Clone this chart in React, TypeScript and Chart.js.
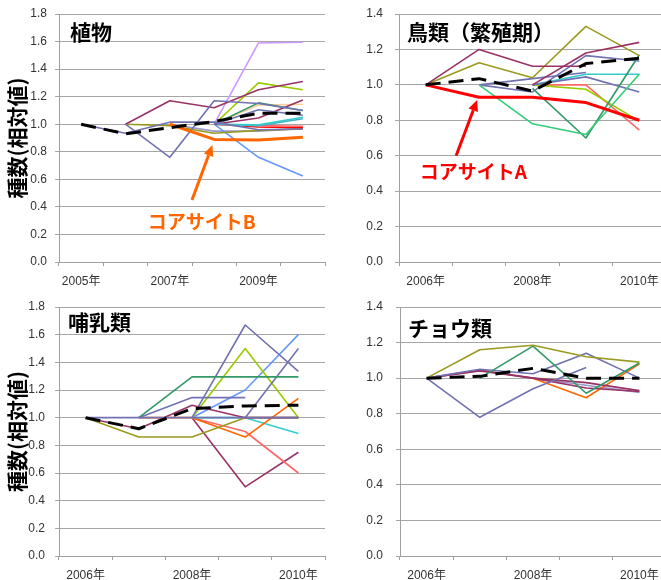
import React, { useEffect, useRef } from 'react';
import { Chart, registerables } from 'chart.js';

Chart.register(...registerables);

// ---------- categories ----------
const plantYears = ['2005年', '2006年', '2007年', '2008年', '2009年', '2010年'];
const otherYears = ['2006年', '2007年', '2008年', '2009年', '2010年'];

// ---------- colours ----------
const BLACK = '#000000';
const SLATE = '#7272B2';
const MAROON = '#993366';
const OLIVE = '#9A9A1E';
const YGREEN = '#99CC00';
const TEAL = '#339966';
const GREEN = '#33CC77';
const LAVENDER = '#CC99FF';
const LBLUE = '#6699FF';
const PEACH = '#FFCC99';
const TURQ = '#33CCCC';
const CYAN2 = '#4BACC6';
const RED = '#FF0000';
const SALMON = '#FF6666';
const ORANGE = '#FF6600';
const PERIW = '#9999CC';

// ---------- 植物 (2005-2010) ----------
const plantMean = [1.0, 0.93, 0.975, 1.02, 1.08, 1.08];
const plantCoreB = [null, null, 1.0, 0.89, 0.885, 0.905];
const plantSlate1 = [1.0, 0.935, 1.015, 1.015, 0.96, 0.965];
const plantSlate2 = [null, 1.0, 0.76, 1.17, 1.15, 1.1];
const plantSlate3 = [null, null, null, 1.0, 1.105, 1.065];
const plantMaroon1 = [null, 1.0, 1.17, 1.12, 1.25, 1.31];
const plantMaroon2 = [null, null, null, 1.0, 1.045, 1.175];
const plantLavender = [null, null, null, 1.0, 1.59, 1.595];
const plantYGreen = [null, null, null, 1.0, 1.3, 1.25];
const plantTeal = [null, null, null, 1.0, 1.155, 1.1];
const plantPeach = [null, null, null, 1.0, 1.14, 1.145];
const plantTurq = [null, null, null, 1.0, 0.995, 1.05];
const plantCyan = [null, null, null, 1.0, 0.99, 1.04];
const plantSalmon = [null, null, null, 1.0, 0.99, 0.985];
const plantRed = [null, null, null, 1.0, 0.98, 0.975];
const plantOlive = [null, 1.0, 0.99, 0.935, 0.955, 0.965];
const plantLBlue = [null, null, null, 1.0, 0.76, 0.625];
const plantPeriw = [null, null, 1.0, 0.95, 0.95, 0.97];

// ---------- 鳥類(繁殖期) (2006-2010) ----------
const birdMean = [1.0, 1.035, 0.965, 1.12, 1.15];
const birdCoreA = [1.0, 0.93, 0.93, 0.9, 0.8];
const birdMaroon1 = [1.0, 1.2, 1.105, 1.105, null];
const birdMaroon2 = [null, null, 1.0, 1.18, 1.24];
const birdOlive = [1.0, 1.125, 1.04, 1.33, 1.165];
const birdGreen = [null, 1.0, 0.78, 0.72, 1.06];
const birdTeal = [null, null, 0.98, 0.7, 1.17];
const birdSlate1 = [null, 1.0, 1.035, 1.07, null];
const birdSlate2 = [null, 1.0, 0.96, 1.165, 1.135];
const birdSlate3 = [null, null, 1.0, 1.045, 0.96];
const birdTurq = [null, null, 1.0, 1.06, 1.06];
const birdYGreen = [null, null, 1.0, 0.975, 0.795];
const birdSalmon = [null, null, 1.0, 1.0, 0.745];

// ---------- 哺乳類 (2006-2010) ----------
const mamMean = [1.0, 0.92, 1.065, 1.085, 1.09];
const mamSlateFlat = [1.0, 1.0, 1.0, 1.0, 1.0];
const mamMaroon1 = [1.0, 0.92, 1.09, 1.0, 1.0];
const mamOlive = [1.0, 0.86, 0.86, 1.0, 1.0];
const mamTeal = [null, 1.0, 1.295, 1.295, 1.295];
const mamSlate2 = [null, 1.0, 1.145, 1.145, null];
const mamOrange = [null, 1.0, 1.0, 0.86, 1.14];
const mamSlate3 = [null, null, 1.0, 1.67, 1.335];
const mamSlate4 = [null, null, null, 1.0, 1.5];
const mamYGreen = [null, null, 1.0, 1.5, 1.0];
const mamLBlue = [null, null, 1.0, 1.2, 1.6];
const mamTurq = [null, null, 1.0, 1.0, 0.885];
const mamSalmon = [null, null, 1.0, 0.9, 0.6];
const mamMaroon2 = [null, null, 1.0, 0.5, 0.75];

// ---------- チョウ類 (2006-2010) ----------
const butMean = [1.0, 1.01, 1.055, 1.0, 1.0];
const butOlive = [1.0, 1.16, 1.185, 1.12, 1.09];
const butTeal = [null, 1.0, 1.18, 0.915, 1.085];
const butSlate1 = [1.0, 0.78, 0.94, 1.06, null];
const butSlate2 = [1.0, 1.05, 1.025, 1.14, 1.0];
const butMaroon1 = [1.0, 1.04, 1.0, 0.975, 0.93];
const butMaroon2 = [1.0, 1.045, 1.0, 0.945, 0.925];
const butOrange = [null, null, 1.0, 0.89, 1.08];
const butPeriw = [null, null, 1.0, 0.96, 0.92];

type Series = { data: (number | null)[]; color: string; width?: number; dash?: number[] };
type Annot = {
  text: string; color: string;
  tx: number; ty: number;
  ax0: number; ay0: number; ax1: number; ay1: number;
};

const MEAN_DASH = [15, 8];
const LATIN = "'Liberation Sans', Arial, 'Noto Sans CJK JP', sans-serif";
const CJK = "'Noto Sans CJK JP', 'Noto Sans CJK SC', sans-serif";

const plantSeries: Series[] = [
  { data: plantMean, color: BLACK, width: 3, dash: MEAN_DASH },
  { data: plantCoreB, color: ORANGE, width: 3 },
  { data: plantSlate1, color: SLATE },
  { data: plantSlate2, color: SLATE },
  { data: plantSlate3, color: SLATE },
  { data: plantMaroon1, color: MAROON },
  { data: plantMaroon2, color: MAROON },
  { data: plantLavender, color: LAVENDER },
  { data: plantYGreen, color: YGREEN },
  { data: plantTeal, color: TEAL },
  { data: plantPeach, color: PEACH },
  { data: plantTurq, color: TURQ },
  { data: plantCyan, color: CYAN2 },
  { data: plantSalmon, color: SALMON },
  { data: plantRed, color: RED },
  { data: plantOlive, color: OLIVE },
  { data: plantLBlue, color: LBLUE },
  { data: plantPeriw, color: PERIW },
];

const birdSeries: Series[] = [
  { data: birdMean, color: BLACK, width: 3, dash: MEAN_DASH },
  { data: birdCoreA, color: RED, width: 3 },
  { data: birdMaroon1, color: MAROON },
  { data: birdMaroon2, color: MAROON },
  { data: birdOlive, color: OLIVE },
  { data: birdGreen, color: GREEN },
  { data: birdTeal, color: TEAL },
  { data: birdSlate1, color: SLATE },
  { data: birdSlate2, color: SLATE },
  { data: birdSlate3, color: SLATE },
  { data: birdTurq, color: TURQ },
  { data: birdYGreen, color: YGREEN },
  { data: birdSalmon, color: SALMON },
];

const mamSeries: Series[] = [
  { data: mamMean, color: BLACK, width: 3, dash: MEAN_DASH },
  { data: mamSlateFlat, color: SLATE },
  { data: mamMaroon1, color: MAROON },
  { data: mamOlive, color: OLIVE },
  { data: mamTeal, color: TEAL },
  { data: mamSlate2, color: SLATE },
  { data: mamOrange, color: ORANGE },
  { data: mamSlate3, color: SLATE },
  { data: mamSlate4, color: SLATE },
  { data: mamYGreen, color: YGREEN },
  { data: mamLBlue, color: LBLUE },
  { data: mamTurq, color: TURQ },
  { data: mamSalmon, color: SALMON },
  { data: mamMaroon2, color: MAROON },
];

const butSeries: Series[] = [
  { data: butMean, color: BLACK, width: 3, dash: MEAN_DASH },
  { data: butOlive, color: OLIVE },
  { data: butTeal, color: TEAL },
  { data: butSlate1, color: SLATE },
  { data: butSlate2, color: SLATE },
  { data: butMaroon1, color: MAROON },
  { data: butMaroon2, color: MAROON },
  { data: butOrange, color: ORANGE },
  { data: butPeriw, color: PERIW },
];

interface PanelProps {
  left: number; top: number; width: number; height: number;
  labels: string[];
  series: Series[];
  yMax: number;
  title: string;
  titleDx: number; titleDy: number;
  yTitle?: string;
  yAxisWidth: number;
  xAxisHeight: number;
  tickPad: number;
  padTop: number;
  annot?: Annot;
}

function Panel(p: PanelProps) {
  const ref = useRef<HTMLCanvasElement | null>(null);
  useEffect(() => {
    if (!ref.current) return;
    const overlay = {
      id: 'overlay',
      afterDraw(chart: any) {
        const { ctx, chartArea, scales } = chart;
        ctx.save();
        ctx.font = `bold 21px ${CJK}`;
        ctx.fillStyle = '#000';
        ctx.textBaseline = 'middle';
        ctx.textAlign = 'left';
        ctx.fillText(p.title, chartArea.left + p.titleDx, chartArea.top + p.titleDy);
        const a = p.annot;
        if (a) {
          const xs = scales.x, ys = scales.y;
          const x0 = xs.getPixelForValue(a.ax0), y0 = ys.getPixelForValue(a.ay0);
          const x1 = xs.getPixelForValue(a.ax1), y1 = ys.getPixelForValue(a.ay1);
          const ang = Math.atan2(y1 - y0, x1 - x0);
          const hl = 11, hw = 5;
          const bx = x1 - hl * Math.cos(ang), by = y1 - hl * Math.sin(ang);
          ctx.strokeStyle = a.color;
          ctx.fillStyle = a.color;
          ctx.lineWidth = 3;
          ctx.beginPath();
          ctx.moveTo(x0, y0);
          ctx.lineTo(bx, by);
          ctx.stroke();
          ctx.beginPath();
          ctx.moveTo(x1, y1);
          ctx.lineTo(bx + hw * Math.sin(ang), by - hw * Math.cos(ang));
          ctx.lineTo(bx - hw * Math.sin(ang), by + hw * Math.cos(ang));
          ctx.closePath();
          ctx.fill();
          ctx.font = `bold 19px ${CJK}`;
          ctx.textBaseline = 'middle';
          ctx.textAlign = 'left';
          ctx.fillText(a.text, xs.getPixelForValue(a.tx), ys.getPixelForValue(a.ty));
        }
        ctx.restore();
      },
    };
    const labels = p.labels;
    const chart = new Chart(ref.current, {
      type: 'line',
      data: {
        labels,
        datasets: p.series.map((s) => ({
          data: s.data,
          borderColor: s.color,
          backgroundColor: s.color,
          borderWidth: s.width ?? 1.6,
          borderDash: s.dash ?? [],
          pointRadius: 0,
          pointHoverRadius: 0,
          tension: 0,
          fill: false,
          spanGaps: false,
          borderCapStyle: 'butt',
          borderJoinStyle: 'round',
        })),
      } as any,
      options: {
        animation: false,
        responsive: false,
        maintainAspectRatio: false,
        devicePixelRatio: 1,
        events: [],
        layout: { padding: { left: 0, top: p.padTop, right: 5, bottom: 0 } },
        plugins: { legend: { display: false }, tooltip: { enabled: false }, title: { display: false } },
        scales: {
          x: {
            type: 'category',
            offset: true,
            grid: { offset: true, drawOnChartArea: false, drawTicks: true, tickLength: 4, color: '#a0a0a0' },
            border: { display: true, color: '#a0a0a0' },
            ticks: {
              autoSkip: false, maxRotation: 0, minRotation: 0, padding: 8, color: '#333',
              font: { family: LATIN, size: 12 },
              callback: (_v: any, i: number) => (i % 2 === 0 ? labels[i] : ''),
            },
            afterFit: (s: any) => { s.height = p.xAxisHeight; s.paddingLeft = 0; s.paddingRight = 0; },
          },
          y: {
            min: 0, max: p.yMax,
            ticks: {
              stepSize: 0.2, padding: p.tickPad, color: '#333',
              font: { family: LATIN, size: 12 },
              callback: (v: any) => Number(v).toFixed(1),
            },
            grid: { color: '#a6a6a6', tickLength: 4, lineWidth: 1 },
            border: { color: '#a0a0a0' },
            title: p.yTitle
              ? { display: true, text: p.yTitle, color: '#000', font: { family: CJK, size: 21, weight: 'bold' }, padding: { top: 4, bottom: 0 } }
              : { display: false },
            afterFit: (s: any) => { s.width = p.yAxisWidth; s.paddingTop = 0; s.paddingBottom = 0; },
          },
        },
      } as any,
      plugins: [overlay],
    });
    return () => chart.destroy();
  }, []);
  return (
    <canvas
      ref={ref}
      width={p.width}
      height={p.height}
      style={{ position: 'absolute', left: p.left, top: p.top, width: p.width, height: p.height, display: 'block' }}
    />
  );
}

export default function App() {
  return (
    <div style={{ position: 'absolute', left: 0, top: 0, width: 661, height: 580, overflow: 'hidden', background: '#fff' }}>
      <Panel
        left={0} top={0} width={330} height={290}
        labels={plantYears} series={plantSeries} yMax={1.8}
        title="植物" titleDx={11} titleDy={18}
        yTitle="種数(相対値)" yAxisWidth={59} xAxisHeight={28} tickPad={8} padTop={14}
        annot={{ text: 'コアサイトB', color: ORANGE, tx: 1.5, ty: 0.29, ax0: 2.5, ay0: 0.45, ax1: 2.96, ay1: 0.85 }}
      />
      <Panel
        left={330} top={0} width={341} height={290}
        labels={otherYears} series={birdSeries} yMax={1.4}
        title="鳥類（繁殖期）" titleDx={8} titleDy={18}
        yAxisWidth={69} xAxisHeight={28} tickPad={12} padTop={14}
        annot={{ text: 'コアサイトA', color: RED, tx: -0.11, ty: 0.508, ax0: 0.57, ay0: 0.6, ax1: 0.963, ay1: 0.915 }}
      />
      <Panel
        left={0} top={290} width={330} height={290}
        labels={otherYears} series={mamSeries} yMax={1.8}
        title="哺乳類" titleDx={9} titleDy={15}
        yTitle="種数(相対値)" yAxisWidth={59} xAxisHeight={24} tickPad={10} padTop={17}
      />
      <Panel
        left={330} top={290} width={341} height={290}
        labels={otherYears} series={butSeries} yMax={1.4}
        title="チョウ類" titleDx={8} titleDy={21}
        yAxisWidth={70} xAxisHeight={24} tickPad={13} padTop={17}
      />
    </div>
  );
}
